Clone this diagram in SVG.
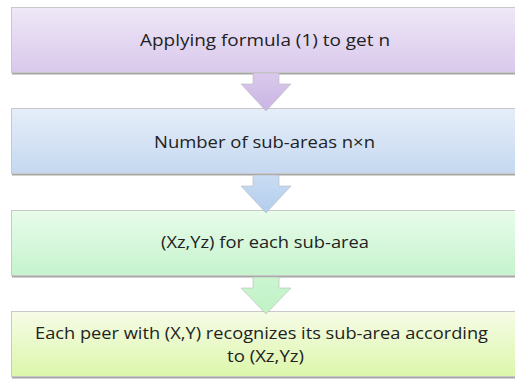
<svg xmlns="http://www.w3.org/2000/svg" width="515" height="380" viewBox="0 0 515 380">
  <defs>
    <linearGradient id="g1" x1="0" y1="0" x2="0" y2="1">
      <stop offset="0" stop-color="#eee8f7"/>
      <stop offset="1" stop-color="#d9c8ec"/>
    </linearGradient>
    <linearGradient id="g2" x1="0" y1="0" x2="0" y2="1">
      <stop offset="0" stop-color="#e5eef9"/>
      <stop offset="1" stop-color="#c5d8f0"/>
    </linearGradient>
    <linearGradient id="g3" x1="0" y1="0" x2="0" y2="1">
      <stop offset="0" stop-color="#e8fcea"/>
      <stop offset="1" stop-color="#c6f3ce"/>
    </linearGradient>
    <linearGradient id="g4" x1="0" y1="0" x2="0" y2="1">
      <stop offset="0" stop-color="#f6fbe6"/>
      <stop offset="1" stop-color="#dcf7ab"/>
    </linearGradient>
    <linearGradient id="a1" x1="0" y1="0" x2="0" y2="1">
      <stop offset="0" stop-color="#dac9ec"/>
      <stop offset="1" stop-color="#c9b5e3"/>
    </linearGradient>
    <linearGradient id="a2" x1="0" y1="0" x2="0" y2="1">
      <stop offset="0" stop-color="#c9dcf2"/>
      <stop offset="1" stop-color="#b3cdee"/>
    </linearGradient>
    <linearGradient id="a3" x1="0" y1="0" x2="0" y2="1">
      <stop offset="0" stop-color="#cbf5d1"/>
      <stop offset="1" stop-color="#bff2c3"/>
    </linearGradient>
  </defs>
  <style>
    .box { stroke: #c8c8c8; stroke-width: 1; }
    .shadow { fill: #a6a6a6; }
    .lbl { font-family: "Open Sans", "Liberation Sans", sans-serif; font-size: 17px; fill: #222222; text-anchor: middle; }
    .arr { stroke: #b8b8b8; stroke-width: 0.6; }
  </style>
  <rect width="515" height="380" fill="#ffffff"/>

  <g id="node1">
    <rect class="shadow" x="12" y="72" width="510" height="2.5"/>
    <rect class="box" x="11.5" y="7.5" width="510" height="65" fill="url(#g1)"/>
    <text class="lbl" x="265" y="46" textLength="250" lengthAdjust="spacingAndGlyphs">Applying formula (1) to get n</text>
  </g>

  <g id="node2">
    <rect class="shadow" x="12" y="173" width="510" height="2.5"/>
    <rect class="box" x="11.5" y="108.5" width="510" height="65" fill="url(#g2)"/>
    <text class="lbl" x="264.5" y="148" textLength="221" lengthAdjust="spacingAndGlyphs">Number of sub-areas n×n</text>
  </g>

  <g id="node3">
    <rect class="shadow" x="12" y="275" width="510" height="2.5"/>
    <rect class="box" x="11.5" y="210.5" width="510" height="65" fill="url(#g3)"/>
    <text class="lbl" x="265" y="248" textLength="208" lengthAdjust="spacingAndGlyphs">(Xz,Yz) for each sub-area</text>
  </g>

  <g id="node4">
    <rect class="shadow" x="12" y="376" width="510" height="2.5"/>
    <rect class="box" x="11.5" y="311.5" width="510" height="65" fill="url(#g4)"/>
    <text class="lbl" x="261.5" y="339" textLength="453" lengthAdjust="spacingAndGlyphs">Each peer with (X,Y) recognizes its sub-area according</text>
    <text class="lbl" x="265.5" y="362" textLength="77" lengthAdjust="spacingAndGlyphs">to (Xz,Yz)</text>
  </g>

  <g id="connectors">
    <path class="arr" d="M253,73 L279,73 L279,84 L291,84 L266,111 L241,84 L253,84 Z" fill="url(#a1)"/>
    <path class="arr" d="M253,175 L279,175 L279,186 L291,186 L266,213 L241,186 L253,186 Z" fill="url(#a2)"/>
    <path class="arr" d="M253,277 L279,277 L279,288 L291,288 L266,314 L241,288 L253,288 Z" fill="url(#a3)"/>
  </g>
</svg>
